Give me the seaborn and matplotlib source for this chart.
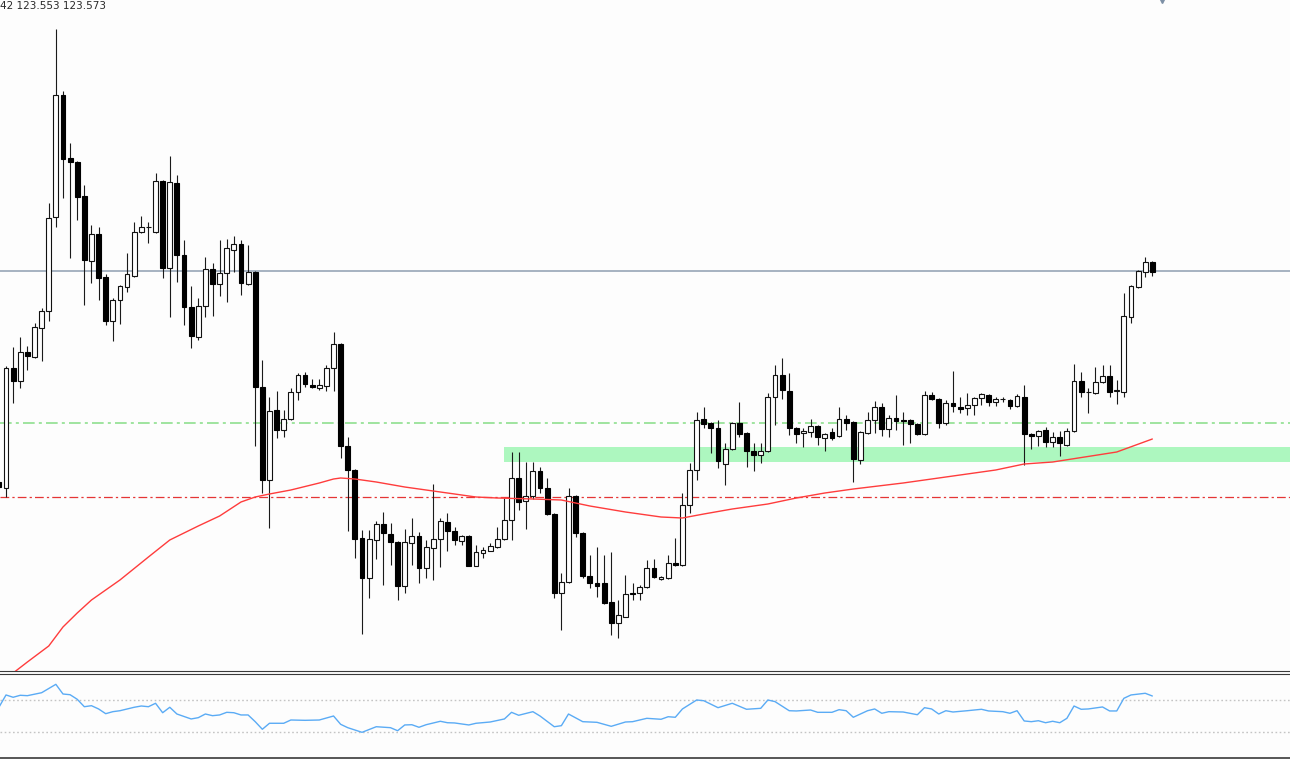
import numpy as np
import matplotlib
matplotlib.use("Agg")
import matplotlib.pyplot as plt
import seaborn as sns

# OHLC per bar (price)
opens = [121.46, 121.40, 122.60, 122.47, 122.76, 122.71, 123.00, 123.17, 124.11, 125.33,
         124.70, 124.66, 124.32, 123.67, 123.94, 123.51, 123.07, 123.28, 123.41, 123.52,
         123.96, 124.01, 123.96, 124.47, 123.60, 124.45, 123.73, 123.21, 122.91, 123.22,
         123.59, 123.44, 123.55, 123.78, 123.84, 123.44, 123.56, 122.41, 121.48, 122.18,
         121.98, 122.09, 122.36, 122.53, 122.43, 122.40, 122.42, 122.60, 122.84, 121.82,
         121.58, 120.90, 120.50, 120.88, 121.04, 120.94, 120.86, 120.42, 120.85, 120.92,
         120.60, 120.80, 120.89, 121.06, 120.97, 120.87, 120.92, 120.62, 120.75, 120.77,
         120.81, 120.89, 121.08, 121.50, 121.27, 121.32, 121.57, 121.40, 121.14, 120.35,
         120.46, 121.32, 120.95, 120.52, 120.45, 120.45, 120.26, 120.05, 120.11, 120.35,
         120.35, 120.41, 120.60, 120.49, 120.50, 120.65, 120.63, 121.23, 121.58, 122.09,
         122.05, 122.00, 121.64, 121.79, 122.05, 121.95, 121.77, 121.73, 121.77, 122.31,
         122.53, 122.37, 122.00, 121.95, 121.96, 122.02, 121.90, 121.96, 121.92, 122.09,
         122.06, 121.68, 121.95, 122.08, 122.21, 121.99, 122.10, 122.08, 122.08, 122.04,
         121.94, 122.33, 122.29, 122.05, 122.25, 122.21, 122.20, 122.23, 122.30, 122.33,
         122.26, 122.29, 122.28, 122.22, 122.31, 121.94, 121.92, 121.98, 121.86, 121.91,
         121.83, 121.97, 122.47, 122.36, 122.35, 122.46, 122.52, 122.37, 122.36, 123.11,
         123.41, 123.56, 123.66]
highs = [121.48, 122.62, 122.81, 122.91, 122.82, 123.05, 123.20, 124.25, 125.99, 125.37,
         124.85, 124.67, 124.43, 124.03, 124.01, 123.54, 123.30, 123.43, 123.75, 124.06,
         124.12, 124.06, 124.55, 124.48, 124.72, 124.53, 123.88, 123.42, 123.30, 123.71,
         123.65, 123.88, 123.89, 123.92, 123.88, 123.83, 123.57, 122.68, 122.31, 122.37,
         122.18, 122.40, 122.55, 122.56, 122.49, 122.49, 122.63, 122.96, 122.85, 121.91,
         121.59, 120.98, 120.98, 121.07, 121.16, 121.05, 120.87, 120.99, 121.10, 120.96,
         120.88, 121.44, 121.10, 121.15, 121.01, 120.93, 120.93, 120.83, 120.81, 120.85,
         121.01, 121.30, 121.76, 121.76, 121.66, 121.66, 121.61, 121.50, 121.15, 120.55,
         121.40, 121.33, 120.96, 120.73, 120.81, 120.73, 120.76, 120.28, 120.53, 120.45,
         120.43, 120.68, 120.69, 120.52, 120.73, 120.90, 121.35, 121.65, 122.16, 122.21,
         122.06, 122.08, 121.85, 122.06, 122.26, 121.96, 121.85, 121.85, 122.35, 122.63,
         122.70, 122.55, 122.01, 122.00, 122.09, 122.03, 121.95, 122.00, 122.21, 122.13,
         122.07, 121.97, 122.16, 122.27, 122.25, 122.13, 122.33, 122.16, 122.09, 122.05,
         122.37, 122.36, 122.30, 122.28, 122.57, 122.31, 122.35, 122.31, 122.35, 122.34,
         122.31, 122.31, 122.29, 122.34, 122.43, 121.95, 121.98, 122.01, 121.96, 121.97,
         122.00, 122.64, 122.56, 122.40, 122.61, 122.63, 122.63, 122.48, 123.35, 123.43,
         123.58, 123.71, 123.67]
lows = [121.39, 121.31, 122.25, 122.40, 122.58, 122.70, 122.67, 123.07, 124.01, 124.30,
        123.70, 124.08, 123.23, 123.45, 123.28, 123.03, 122.87, 123.04, 123.36, 123.51,
        123.95, 123.85, 123.95, 123.50, 123.11, 123.46, 123.03, 122.80, 122.88, 123.11,
        123.12, 123.32, 123.26, 123.56, 123.33, 123.43, 121.82, 121.35, 121.00, 121.90,
        121.91, 122.08, 122.28, 122.41, 122.40, 122.38, 122.37, 122.37, 121.70, 120.97,
        120.70, 119.94, 120.30, 120.69, 120.43, 120.63, 120.28, 120.35, 120.63, 120.45,
        120.50, 120.48, 120.61, 120.77, 120.83, 120.83, 120.62, 120.62, 120.70, 120.77,
        120.80, 120.88, 120.88, 121.18, 120.99, 121.29, 121.35, 121.13, 120.30, 119.98,
        120.45, 120.91, 120.50, 120.40, 120.31, 120.24, 119.93, 119.90, 120.11, 120.28,
        120.28, 120.40, 120.50, 120.48, 120.49, 120.62, 120.62, 121.15, 121.48, 122.00,
        121.75, 121.60, 121.43, 121.78, 121.91, 121.61, 121.57, 121.65, 121.76, 122.03,
        122.29, 121.93, 121.85, 121.81, 121.91, 121.83, 121.77, 121.88, 121.91, 121.98,
        121.46, 121.64, 121.94, 121.95, 121.92, 121.91, 121.98, 121.83, 121.85, 121.93,
        121.93, 122.28, 122.00, 122.03, 122.16, 122.15, 122.13, 122.13, 122.23, 122.22,
        122.22, 122.26, 122.19, 122.21, 121.63, 121.79, 121.82, 121.81, 121.81, 121.72,
        121.82, 121.96, 122.31, 122.15, 122.34, 122.45, 122.31, 122.24, 122.31, 123.05,
        123.40, 123.51, 123.52]
closes = [121.41, 122.60, 122.47, 122.76, 122.72, 123.01, 123.17, 124.10, 125.33, 124.69,
          124.66, 124.31, 123.68, 123.94, 123.50, 123.07, 123.28, 123.42, 123.54, 123.96,
          124.01, 124.01, 124.47, 123.60, 124.46, 123.73, 123.21, 122.92, 123.22, 123.59,
          123.44, 123.55, 123.80, 123.84, 123.45, 123.56, 122.41, 121.48, 122.17, 121.98,
          122.09, 122.36, 122.53, 122.44, 122.41, 122.43, 122.60, 122.84, 121.82, 121.58,
          120.89, 120.50, 120.89, 121.04, 120.95, 120.86, 120.42, 120.86, 120.92, 120.60,
          120.81, 120.89, 121.07, 120.97, 120.88, 120.92, 120.62, 120.76, 120.78, 120.82,
          120.89, 121.08, 121.50, 121.26, 121.32, 121.57, 121.40, 121.14, 120.35, 120.46,
          121.32, 120.95, 120.52, 120.45, 120.42, 120.25, 120.05, 120.13, 120.34, 120.34,
          120.41, 120.60, 120.51, 120.51, 120.65, 120.63, 121.23, 121.58, 122.08, 122.04,
          122.00, 121.67, 121.79, 122.05, 121.94, 121.77, 121.73, 121.77, 122.31, 122.53,
          122.38, 122.00, 121.94, 121.97, 122.02, 121.91, 121.94, 121.90, 122.09, 122.05,
          121.69, 121.96, 122.08, 122.21, 121.99, 122.10, 122.07, 122.07, 122.04, 121.94,
          122.33, 122.29, 122.05, 122.25, 122.22, 122.19, 122.23, 122.30, 122.34, 122.26,
          122.29, 122.29, 122.22, 122.32, 121.94, 121.92, 121.97, 121.86, 121.91, 121.85,
          121.97, 122.47, 122.36, 122.36, 122.46, 122.52, 122.36, 122.38, 123.12, 123.42,
          123.57, 123.66, 123.56]

# moving average, sampled at these bars
ma_idx = [2, 4, 7, 9, 11, 13, 17, 21, 24, 28, 31, 34, 36, 38, 41, 45, 47, 48, 50, 53,
          57, 62, 65, 67, 70, 75, 79, 83, 88, 93, 96, 99, 103, 108, 112, 116, 120, 127,
          134, 140, 144, 148, 157, 162]
ma_vals = [119.55, 119.66, 119.82, 120.01, 120.15, 120.28, 120.48, 120.71, 120.88, 121.02,
           121.12, 121.26, 121.31, 121.34, 121.38, 121.45, 121.49, 121.50, 121.49, 121.46,
           121.41, 121.36, 121.33, 121.31, 121.30, 121.29, 121.28, 121.22, 121.16, 121.11,
           121.10, 121.14, 121.19, 121.24, 121.30, 121.35, 121.39, 121.45, 121.52, 121.58,
           121.64, 121.66, 121.76, 121.89]

# oscillator in the lower pane
rsi_idx = [0, 1, 2, 3, 4, 6, 8, 9, 10, 11, 12, 13, 14, 15, 16, 17, 19, 20, 21, 22,
           23, 24, 25, 27, 28, 29, 30, 31, 32, 33, 34, 35, 36, 37, 38, 40, 41, 43, 45, 47,
           48, 49, 51, 53, 55, 56, 57, 58, 59, 60, 62, 63, 64, 66, 67, 69, 71, 72, 73, 75,
           76, 78, 79, 80, 82, 84, 86, 88, 89, 91, 93, 94, 95, 96, 98, 99, 101, 103, 105, 107,
           108, 109, 111, 112, 114, 115, 117, 118, 119, 120, 122, 123, 124, 125, 127, 129, 130, 131, 132, 133,
           134, 136, 138, 139, 141, 142, 143, 144, 145, 146, 147, 148, 149, 150, 151, 152, 153, 155, 156, 157,
           158, 159, 161, 162]
rsi_vals = [60.9, 76.3, 73.4, 75.9, 75.4, 79.1, 89.6, 77.5, 76.6, 70.9, 61.6, 62.9, 58.8, 52.9, 55.4, 56.6, 60.9, 62.5, 61.6, 65.9,
            54.1, 60.9, 52.5, 46.3, 47.9, 52.5, 50.4, 51.3, 54.6, 54.1, 51.3, 51.3, 42.9, 33.4, 40.9, 40.9, 45.0, 44.6, 45.0, 50.0,
            39.6, 35.4, 29.6, 36.6, 35.4, 31.6, 38.8, 39.1, 35.9, 39.1, 43.4, 41.6, 41.3, 38.8, 40.9, 42.5, 46.3, 54.6, 50.9, 55.4,
            50.0, 36.6, 37.9, 52.5, 42.9, 42.1, 37.1, 42.5, 42.9, 47.1, 45.9, 49.1, 48.4, 58.8, 70.0, 69.1, 60.4, 65.9, 58.4, 59.6,
            70.0, 68.0, 56.6, 56.3, 57.5, 54.6, 54.6, 57.9, 56.6, 48.4, 56.6, 58.8, 53.4, 55.4, 55.0, 51.6, 60.4, 58.8, 52.5, 56.6,
            55.0, 56.6, 58.4, 56.3, 55.4, 53.4, 56.6, 43.8, 42.9, 44.1, 41.6, 43.4, 41.6, 47.1, 62.5, 58.4, 58.8, 61.3, 56.3, 56.3,
            72.1, 76.3, 78.4, 75.0]
rsi_levels = [70, 30]

bid_price = 123.57
green_level = 122.05
red_level = 121.31
zone_low, zone_high = 121.66, 121.81
zone_start_bar = 70.9
header_text = "42 123.553 123.573"

# ---- layout (pixels of a 1290x759 picture) ----
W, H = 1290, 759
bg = "#fdfdfd"
bar_px, bar0_px = 7.12, -1.1          # bar spacing and x of bar 0
main_bottom_px, sub_top_px, sub_bottom_px = 670.5, 673.5, 757.5
price_top = 126.28                    # price at pixel row 0
px_per_price = 100.0

sns.set_style("white")
plt.rcParams["font.family"] = ["DejaVu Sans"]

fig = plt.figure(figsize=(W / 100, H / 100), dpi=100, facecolor=bg)
ax = fig.add_axes([0, (H - main_bottom_px) / H, 1, main_bottom_px / H], facecolor=bg)
ax2 = fig.add_axes([0, (H - sub_bottom_px) / H, 1, (sub_bottom_px - sub_top_px) / H],
                   facecolor=bg, sharex=ax)

x_left = -bar0_px / bar_px
x_right = (W - bar0_px) / bar_px

o, h, l, c = map(np.array, (opens, highs, lows, closes))
idx = np.arange(len(o))
bull = c >= o
body_lo = np.minimum(o, c)
body_h = np.abs(c - o)

# zone, levels
ax.fill_between([zone_start_bar, x_right + 5], zone_low, zone_high, color="#adf7bf", lw=0, zorder=1)
ax.axhline(bid_price, color="#9fadbc", lw=1.3, zorder=1.2)
ax.axhline(green_level, color="#8fdf8f", lw=1.2, ls=(0, (7, 2.5, 1.8, 2.5)), zorder=1.2)
ax.axhline(red_level, color="#e53535", lw=0.9, ls=(0, (7, 2.5, 1.8, 2.5)), zorder=1.2)

# candles
ax.vlines(idx, l, h, color="#1a1a1a", lw=0.8, zorder=2)
ax.bar(idx[bull], body_h[bull], bottom=body_lo[bull], width=0.68,
       facecolor="white", edgecolor="#111111", lw=0.8, zorder=3)
ax.bar(idx[~bull], body_h[~bull], bottom=body_lo[~bull], width=0.68,
       facecolor="black", edgecolor="black", lw=0.8, zorder=3)

sns.lineplot(x=ma_idx, y=ma_vals, ax=ax, color="#ff3c3c", lw=1.0, zorder=4)

ax.set_xlim(x_left, x_right)
ax.set_ylim(price_top - main_bottom_px / px_per_price, price_top)

# lower pane
for lv in rsi_levels:
    ax2.axhline(lv, color="#c4c4c4", lw=1.0, ls=(0, (1.2, 1.8)))
sns.lineplot(x=rsi_idx, y=rsi_vals, ax=ax2, color="#5aabf5", lw=1.0)
# 70 -> 700px, 30 -> 732px
rsi_px = 0.8
ax2.set_ylim((756 - sub_bottom_px) / rsi_px, (756 - sub_top_px) / rsi_px)

for a in (ax, ax2):
    a.set_xticks([])
    a.set_yticks([])
    a.set_xlabel("")
    a.set_ylabel("")
    for s in ("left", "right", "top"):
        a.spines[s].set_visible(False)
    a.spines["bottom"].set_color("#3a3a3a")
    a.spines["bottom"].set_linewidth(0.8)
ax2.spines["top"].set_visible(True)
ax2.spines["top"].set_color("#3a3a3a")
ax2.spines["top"].set_linewidth(0.8)
ax2.spines["bottom"].set_linewidth(1.2)

fig.text(0, 1 - 6 / H, header_text, fontsize=7.5, color="#2a2a2a", va="center", ha="left")
ax.plot([1162 / W], [1.0], marker="v", ms=5, color="#7d90a6", transform=ax.transAxes, clip_on=False)

fig.savefig("out.png", dpi=100, facecolor=bg)
